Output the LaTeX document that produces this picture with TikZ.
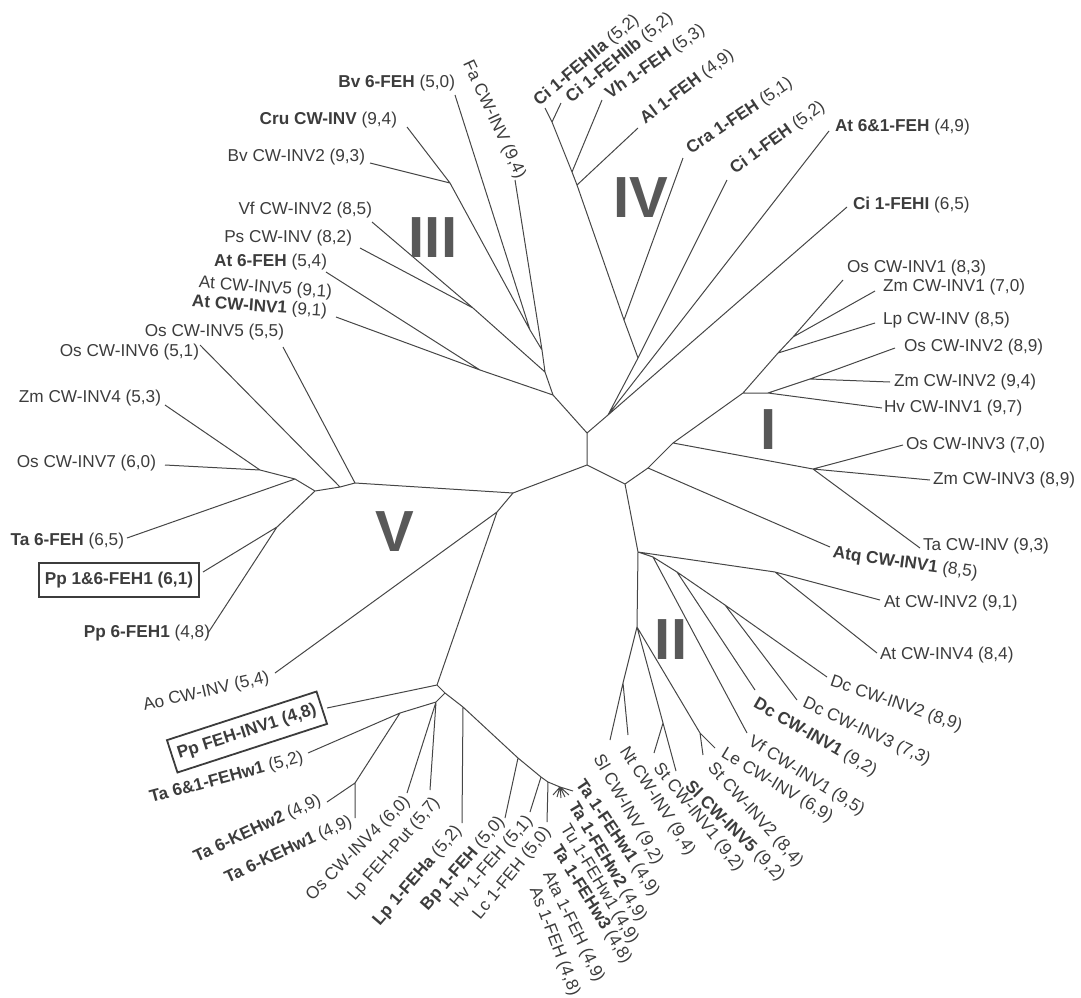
\documentclass[tikz,border=0pt]{standalone}
\usepackage{fontspec}
\setmainfont{Liberation Sans}
\usepackage{tikz}
\definecolor{inkgray}{RGB}{60,60,60}
\definecolor{linegray}{RGB}{70,70,70}
\definecolor{cladegray}{RGB}{88,88,88}
\tikzset{
  branch/.style={draw=linegray, line width=0.5pt},
  leaf/.style={inner sep=0.8pt, text=inkgray, font=\fontsize{8.6}{10}\selectfont},
  boxleaf/.style={leaf, draw=inkgray, line width=0.9pt, inner xsep=3pt, inner ysep=4.5pt,
    font=\bfseries\fontsize{8.6}{10}\selectfont},
  clade/.style={inner sep=0pt, text=cladegray, font=\bfseries\fontsize{29}{30}\selectfont},
}

\begin{document}
\begin{tikzpicture}[x=0.5pt,y=-0.5pt]
  \useasboundingbox (0,0) rectangle (1081,997);

  % inner nodes
  \coordinate (c1) at (587,433);
  \coordinate (c2) at (587,465);
  \coordinate (c3) at (625,484);
  \coordinate (v0) at (513,493);
  \coordinate (v1) at (355,483);
  \coordinate (v2) at (340,487);
  \coordinate (v3) at (315,491);
  \coordinate (v4) at (260,470);
  \coordinate (v5) at (295,479);
  \coordinate (v6) at (277,527);
  \coordinate (v7) at (497,512);
  \coordinate (f0) at (437,685);
  \coordinate (f1) at (445,693);
  \coordinate (f2) at (436,702);
  \coordinate (f3) at (463,707);
  \coordinate (f4) at (518,758);
  \coordinate (f5) at (541,777);
  \coordinate (f6) at (548,782);
  \coordinate (f7) at (560,787);
  \coordinate (f8) at (400,713);
  \coordinate (f9) at (355,783);
  \coordinate (t0) at (553,395);
  \coordinate (t1) at (480,370);
  \coordinate (t2) at (545,372);
  \coordinate (t3) at (473,308);
  \coordinate (t4) at (542,350);
  \coordinate (t5) at (530,330);
  \coordinate (t6) at (450,183);
  \coordinate (u0) at (608,415);
  \coordinate (u1) at (638,358);
  \coordinate (u2) at (624,320);
  \coordinate (u3) at (577,185);
  \coordinate (u4) at (572,172);
  \coordinate (u5) at (552,122);
  \coordinate (i0) at (648,468);
  \coordinate (i1) at (673,443);
  \coordinate (i2) at (813,469);
  \coordinate (i3) at (743,393);
  \coordinate (i4) at (768,393);
  \coordinate (i5) at (810,379);
  \coordinate (i6) at (778,353);
  \coordinate (i7) at (793,337);
  \coordinate (w0) at (638,552);
  \coordinate (w1) at (637,627);
  \coordinate (w2) at (775,572);
  \coordinate (w3) at (725,605);
  \coordinate (w5) at (653,557);
  \coordinate (w6) at (677,572);
  \coordinate (w7) at (623,683);
  \coordinate (w8) at (663,723);
  \coordinate (w9) at (700,733);

  % leaf ends
  \coordinate (bv6T) at (455,95);
  \coordinate (cruT) at (407,127);
  \coordinate (bv2T) at (370,163);
  \coordinate (faT) at (515,180);
  \coordinate (vf2T) at (372,222);
  \coordinate (psT) at (360,248);
  \coordinate (at6T) at (326,272);
  \coordinate (atinv1T) at (336,317);
  \coordinate (os5T) at (283,347);
  \coordinate (os6T) at (200,345);
  \coordinate (zm4T) at (165,405);
  \coordinate (os7T) at (165,465);
  \coordinate (ta6T) at (127,538);
  \coordinate (pp16T) at (203,572);
  \coordinate (pp6T) at (208,633);
  \coordinate (aoT) at (275,673);
  \coordinate (ppinvT) at (327,708);
  \coordinate (ta61T) at (308,753);
  \coordinate (keh2T) at (327,802);
  \coordinate (keh1T) at (355,818);
  \coordinate (os4T) at (407,793);
  \coordinate (lpputT) at (430,790);
  \coordinate (lp1aT) at (462,823);
  \coordinate (bpT) at (505,818);
  \coordinate (hvT) at (530,812);
  \coordinate (lcT) at (547,822);
  \coordinate (tw1T) at (573,791);
  \coordinate (tw2T) at (569,795);
  \coordinate (tuT) at (565,797);
  \coordinate (tw3T) at (561,798);
  \coordinate (ataT) at (557,797);
  \coordinate (asT) at (553,795);
  \coordinate (slT) at (610,740);
  \coordinate (ntT) at (628,735);
  \coordinate (st1T) at (654,753);
  \coordinate (sl5T) at (676,771);
  \coordinate (st2T) at (703,755);
  \coordinate (leT) at (715,748);
  \coordinate (vf1T) at (747,733);
  \coordinate (dc1T) at (755,690);
  \coordinate (dc3T) at (797,700);
  \coordinate (dc2T) at (827,677);
  \coordinate (at4T) at (877,653);
  \coordinate (at2T) at (880,600);
  \coordinate (atqT) at (830,547);
  \coordinate (tacwT) at (920,548);
  \coordinate (zm3T) at (930,480);
  \coordinate (os3T) at (903,445);
  \coordinate (hvinvT) at (882,408);
  \coordinate (zm2T) at (890,382);
  \coordinate (os2T) at (895,348);
  \coordinate (lpT) at (875,323);
  \coordinate (zm1T) at (875,291);
  \coordinate (os1T) at (843,280);
  \coordinate (ciIT) at (847,207);
  \coordinate (at61T) at (829,131);
  \coordinate (ci1T) at (727,180);
  \coordinate (craT) at (683,158);
  \coordinate (alT) at (638,128);
  \coordinate (vhT) at (602,100);
  \coordinate (ciIIbT) at (561,103);
  \coordinate (ciIIaT) at (545,108);

  % branches
  \draw[branch] (c1)--(c2) (c2)--(v0) (c2)--(c3) (c1)--(t0) (c1)--(u0) (c3)--(i0) (c3)--(w0);
  \draw[branch] (v0)--(v1) (v1)--(os5T) (v1)--(v2) (v2)--(os6T) (v2)--(v3) (v3)--(v5)
    (v5)--(v4) (v4)--(zm4T) (v4)--(os7T) (v5)--(ta6T) (v3)--(v6) (v6)--(pp16T) (v6)--(pp6T)
    (v0)--(v7) (v7)--(aoT) (v7)--(f0);
  \draw[branch] (f0)--(ppinvT) (f0)--(f1) (f1)--(f2) (f2)--(os4T) (f2)--(lpputT) (f2)--(f8)
    (f8)--(ta61T) (f8)--(f9) (f9)--(keh2T) (f9)--(keh1T) (f1)--(f3) (f3)--(lp1aT) (f3)--(f4)
    (f4)--(bpT) (f4)--(f5) (f5)--(hvT) (f5)--(f6) (f6)--(lcT) (f6)--(f7)
    (f7)--(tw1T) (f7)--(tw2T) (f7)--(tuT) (f7)--(tw3T) (f7)--(ataT) (f7)--(asT);
  \draw[branch] (t0)--(t1) (t1)--(at6T) (t1)--(atinv1T) (t0)--(t2) (t2)--(t3) (t3)--(psT)
    (t3)--(vf2T) (t2)--(t4) (t4)--(faT) (t4)--(t5) (t5)--(bv6T) (t5)--(t6) (t6)--(cruT) (t6)--(bv2T);
  \draw[branch] (u0)--(u1) (u1)--(u2) (u1)--(ci1T) (u2)--(craT) (u2)--(u3) (u3)--(alT) (u3)--(u4)
    (u4)--(vhT) (u4)--(u5) (u5)--(ciIIaT) (u5)--(ciIIbT) (u0)--(at61T) (u0)--(ciIT);
  \draw[branch] (i0)--(atqT) (i0)--(i1) (i1)--(i2) (i2)--(os3T) (i2)--(zm3T) (i2)--(tacwT)
    (i1)--(i3) (i3)--(i4) (i4)--(hvinvT) (i4)--(i5) (i5)--(zm2T) (i5)--(os2T) (i3)--(i6)
    (i6)--(lpT) (i6)--(i7) (i7)--(zm1T) (i7)--(os1T);
  \draw[branch] (w0)--(w2) (w2)--(at2T) (w2)--(at4T) (w0)--(w5) (w5)--(vf1T) (w5)--(w6)
    (w6)--(dc1T) (w6)--(w3) (w3)--(dc3T) (w3)--(dc2T) (w0)--(w1) (w1)--(w7) (w7)--(slT)
    (w7)--(ntT) (w1)--(w8) (w8)--(st1T) (w8)--(sl5T) (w1)--(w9) (w9)--(leT) (w9)--(st2T);

  % clade III
  \node[leaf,anchor=east] (bv6) at (457,83) {\textbf{Bv 6-FEH} (5,0)};
  \node[leaf,anchor=east] (cru) at (399,120) {\textbf{Cru CW-INV} (9,4)};
  \node[leaf,anchor=east] (bv2) at (367,157) {Bv CW-INV2 (9,3)};
  \node[leaf,anchor=east] (vf2) at (374,210) {Vf CW-INV2 (8,5)};
  \node[leaf,anchor=east] (ps) at (354,238) {Ps CW-INV (8,2)};
  \node[leaf,anchor=east] (at6) at (329,262) {\textbf{At 6-FEH} (5,4)};
  \node[leaf,anchor=east,rotate=-4] (at5) at (334,293) {At CW-INV5 (9,1)};
  \node[leaf,anchor=east,rotate=-4] (atinv1) at (329,312) {\textbf{At CW-INV1} (9,1)};
  \node[leaf,anchor=west,rotate=-65] (fa) at (466,60) {Fa CW-INV (9,4)};
  % clade V
  \node[leaf,anchor=east] (os5) at (286,332) {Os CW-INV5 (5,5)};
  \node[leaf,anchor=east] (os6) at (201,352) {Os CW-INV6 (5,1)};
  \node[leaf,anchor=east] (zm4) at (163,398) {Zm CW-INV4 (5,3)};
  \node[leaf,anchor=east] (os7) at (158,463) {Os CW-INV7 (6,0)};
  \node[leaf,anchor=east] (ta6) at (126,541) {\textbf{Ta 6-FEH} (6,5)};
  \node[boxleaf] (pp16) at (119,580) {Pp 1\&6-FEH1 (6,1)};
  \node[leaf,anchor=east] (pp6) at (212,633) {\textbf{Pp 6-FEH1} (4,8)};
  \node[leaf,anchor=east,rotate=13] (ao) at (271,677) {Ao CW-INV (5,4)};
  \node[boxleaf,rotate=18] (ppinv) at (247,732) {Pp FEH-INV1 (4,8)};
  \node[leaf,anchor=east,rotate=15] (ta61) at (305,757) {\textbf{Ta 6\&1-FEHw1} (5,2)};
  \node[leaf,anchor=east,rotate=25] (keh2) at (322,799) {\textbf{Ta 6-KEHw2} (4,9)};
  \node[leaf,anchor=east,rotate=25] (keh1) at (353,820) {\textbf{Ta 6-KEHw1} (4,9)};
  \node[leaf,anchor=east,rotate=45] (os4) at (409,798) {Os CW-INV4 (6,0)};
  \node[leaf,anchor=east,rotate=49] (lpput) at (438,799) {Lp FEH-Put (5,7)};
  \node[leaf,anchor=east,rotate=49] (lp1a) at (460,827) {\textbf{Lp 1-FEHa} (5,2)};
  \node[leaf,anchor=east,rotate=49] (bp) at (503,818) {\textbf{Bp 1-FEH} (5,0)};
  \node[leaf,anchor=east,rotate=49] (hv) at (531,817) {Hv 1-FEH (5,1)};
  \node[leaf,anchor=east,rotate=51] (lc) at (549,828) {Lc 1-FEH (5,0)};
  \node[leaf,anchor=west,rotate=-56] (tw1) at (578,780) {\textbf{Ta 1-FEHw1} (4,9)};
  \node[leaf,anchor=west,rotate=-59] (tw2) at (571,802) {\textbf{Ta 1-FEHw2} (4,9)};
  \node[leaf,anchor=west,rotate=-59] (tu) at (563,824) {Tu 1-FEHw1 (4,9)};
  \node[leaf,anchor=west,rotate=-58] (tw3) at (554,845) {\textbf{Ta 1-FEHw3} (4,8)};
  \node[leaf,anchor=west,rotate=-64] (ata) at (546,871) {Ata 1-FEH (4,9)};
  \node[leaf,anchor=west,rotate=-69] (as) at (533,886) {As 1-FEH (4,8)};
  % clade II
  \node[leaf,anchor=west,rotate=-60] (sl) at (596,755) {Sl CW-INV (9,2)};
  \node[leaf,anchor=west,rotate=-57] (nt) at (622,747) {Nt CW-INV (9,4)};
  \node[leaf,anchor=west,rotate=-51] (st1) at (655,764) {St CW-INV1 (9,2)};
  \node[leaf,anchor=west,rotate=-45] (sl5) at (686,783) {\textbf{Sl CW-INV5} (9,2)};
  \node[leaf,anchor=west,rotate=-48] (st2) at (709,764) {St CW-INV2 (8,4)};
  \node[leaf,anchor=west,rotate=-31] (le) at (721,752) {Le CW-INV (6,9)};
  \node[leaf,anchor=west,rotate=-32] (vf1) at (748,740) {Vf CW-INV1 (9,5)};
  \node[leaf,anchor=west,rotate=-30] (dc1) at (753,702) {\textbf{Dc CW-INV1} (9,2)};
  \node[leaf,anchor=west,rotate=-25] (dc3) at (802,702) {Dc CW-INV3 (7,3)};
  \node[leaf,anchor=west,rotate=-19] (dc2) at (829,681) {Dc CW-INV2 (8,9)};
  \node[leaf,anchor=west] (at4) at (878,655) {At CW-INV4 (8,4)};
  \node[leaf,anchor=west] (at2) at (882,603) {At CW-INV2 (9,1)};
  % clade I
  \node[leaf,anchor=west,rotate=-8] (atq) at (831,553) {\textbf{Atq CW-INV1} (8,5)};
  \node[leaf,anchor=west] (tacw) at (921,546) {Ta CW-INV (9,3)};
  \node[leaf,anchor=west] (zm3) at (931,480) {Zm CW-INV3 (8,9)};
  \node[leaf,anchor=west] (os3) at (904,445) {Os CW-INV3 (7,0)};
  \node[leaf,anchor=west] (hvinv) at (882,408) {Hv CW-INV1 (9,7)};
  \node[leaf,anchor=west] (zm2) at (892,382) {Zm CW-INV2 (9,4)};
  \node[leaf,anchor=west] (os2) at (902,347) {Os CW-INV2 (8,9)};
  \node[leaf,anchor=west] (lp) at (881,320) {Lp CW-INV (8,5)};
  \node[leaf,anchor=west] (zm1) at (881,287) {Zm CW-INV1 (7,0)};
  \node[leaf,anchor=west] (os1) at (845,268) {Os CW-INV1 (8,3)};
  % clade IV
  \node[leaf,anchor=west] (ciI) at (851,205) {\textbf{Ci 1-FEHI} (6,5)};
  \node[leaf,anchor=west] (at61) at (833,127) {\textbf{At 6\&1-FEH} (4,9)};
  \node[leaf,anchor=west,rotate=36] (ci1) at (731,172) {\textbf{Ci 1-FEH} (5,2)};
  \node[leaf,anchor=west,rotate=34] (cra) at (687,152) {\textbf{Cra 1-FEH} (5,1)};
  \node[leaf,anchor=west,rotate=37] (al) at (641,122) {\textbf{Al 1-FEH} (4,9)};
  \node[leaf,anchor=west,rotate=35] (vh) at (606,97) {\textbf{Vh 1-FEH} (5,3)};
  \node[leaf,anchor=west,rotate=39] (ciIIb) at (567,101) {\textbf{Ci 1-FEHIIb} (5,2)};
  \node[leaf,anchor=west,rotate=40] (ciIIa) at (535,104) {\textbf{Ci 1-FEHIIa} (5,2)};

  \node[clade] (cI) at (769,430) {I};
  \node[clade] (cII) at (671,640) {II};
  \node[clade] (cIII) at (433,238) {III};
  \node[clade] (cIV) at (641,198) {IV};
  \node[clade] (cV) at (395,532) {V};
\end{tikzpicture}
\end{document}
